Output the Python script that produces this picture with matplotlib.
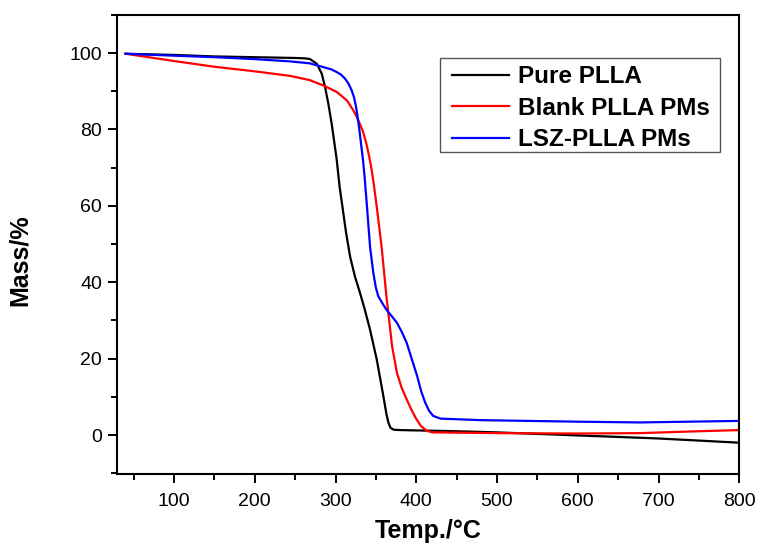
import matplotlib
matplotlib.use("Agg")
import matplotlib.pyplot as plt
from matplotlib.ticker import MultipleLocator
from matplotlib.patches import Rectangle

plt.rcParams['font.family'] = ['Liberation Sans', 'DejaVu Sans']

# Pure PLLA
temp_pure = [40, 100, 150, 200, 250, 262, 268.4, 276.7, 282.9, 287, 291, 295.2, 301.5, 305,
             309.7, 313, 318, 324, 330.3, 336, 342.7, 351, 359.2, 363, 365.4, 368, 372, 380,
             450, 500, 600, 676, 700, 800]
mass_pure = [99.8, 99.5, 99.1, 98.9, 98.7, 98.6, 98.4, 97.2, 94.6, 91.1, 86.8, 81.5, 72.0, 65.0,
             58.0, 53.0, 46.7, 41.5, 37.2, 33.0, 27.6, 19.8, 10.2, 5.5, 3.3, 1.9, 1.4, 1.3,
             1.0, 0.7, -0.1, -0.7, -0.9, -2.0]

# Blank PLLA PMs
temp_blank = [40, 100, 150, 200, 244, 268, 285, 301.5, 314, 322, 326, 331, 334, 338, 341, 344,
              347, 351, 357, 363, 370, 376, 382, 388, 394, 400, 406, 413, 420, 500, 600, 676,
              750, 800]
mass_blank = [99.8, 97.9, 96.4, 95.2, 94.0, 92.9, 91.5, 89.8, 87.6, 85.0, 83.4, 81.0, 79.4, 76.4,
              73.6, 70.3, 66.2, 59.8, 49.3, 36.3, 23.3, 16.3, 12.3, 9.4, 6.6, 4.2, 2.3, 1.1, 0.7,
              0.5, 0.4, 0.5, 1.0, 1.3]

# LSZ-PLLA PMs
temp_lsz = [40, 100, 150, 200, 244, 268, 285, 295, 301.5, 307, 311.7, 316, 320, 323, 325.4,
            328.2, 330.3, 332, 334, 336, 338.6, 342.7, 346.8, 350, 353, 358, 363, 370, 376,
            382, 388, 395, 401, 406, 411, 416, 421, 430, 480, 600, 676, 800]
mass_lsz = [99.8, 99.3, 98.9, 98.4, 97.8, 97.3, 96.3, 95.7, 95.0, 94.3, 93.3, 92.0, 90.2, 88.3,
            85.9, 82.0, 78.5, 75.5, 72.0, 67.5, 60.7, 49.3, 42.4, 38.5, 36.3, 34.5, 32.8, 31.0,
            29.4, 27.0, 24.2, 19.5, 15.5, 11.5, 8.5, 6.3, 5.0, 4.3, 3.9, 3.5, 3.3, 3.7]

labels = ["Pure PLLA", "Blank PLLA PMs", "LSZ-PLLA PMs"]
xticks = [100, 200, 300, 400, 500, 600, 700, 800]
yticks = [0, 20, 40, 60, 80, 100]

fig = plt.figure(figsize=(7.57, 5.48), dpi=100)
ax = fig.add_axes([0.1542, 0.135, 0.8224, 0.838])

ax.plot(temp_pure, mass_pure, color='black', lw=1.6, label=labels[0])
ax.plot(temp_blank, mass_blank, color='#ff0000', lw=1.6, label=labels[1])
ax.plot(temp_lsz, mass_lsz, color='#0000ff', lw=1.6, label=labels[2])

ax.set_xlim(29, 800)
ax.set_ylim(-10.2, 110)
ax.set_xticks(xticks)
ax.set_yticks(yticks)
ax.xaxis.set_minor_locator(MultipleLocator(50))
ax.yaxis.set_minor_locator(MultipleLocator(10))
ax.tick_params(which='major', direction='out', length=6.5, width=1.4, labelsize=14)
ax.tick_params(which='minor', direction='out', length=4, width=1.4)
ax.tick_params(axis='x', which='major', pad=7)
ax.tick_params(axis='y', which='major', pad=4)
for s in ax.spines.values():
    s.set_linewidth(1.5)

ax.set_xlabel("Temp./°C", fontsize=18, fontweight='bold')
ax.set_ylabel("Mass/%", fontsize=18, fontweight='bold')
ax.xaxis.set_label_coords(0.5, -0.098)
ax.yaxis.set_label_coords(-0.137, 0.466)

# legend box drawn separately to match the reference's asymmetric padding
ax.add_patch(Rectangle((0.519, 0.701), 0.969 - 0.519, 0.906 - 0.701,
                       transform=ax.transAxes, facecolor='white', edgecolor='#555555',
                       lw=1.0, zorder=4))
leg = ax.legend(loc='upper left', bbox_to_anchor=(0.538, 0.890),
                prop={'weight': 'bold', 'size': 17.5}, frameon=False,
                handlelength=2.35, handletextpad=0.36,
                borderpad=0, labelspacing=0.345, borderaxespad=0)
leg.set_zorder(5)

fig.savefig("out.png", dpi=100)
